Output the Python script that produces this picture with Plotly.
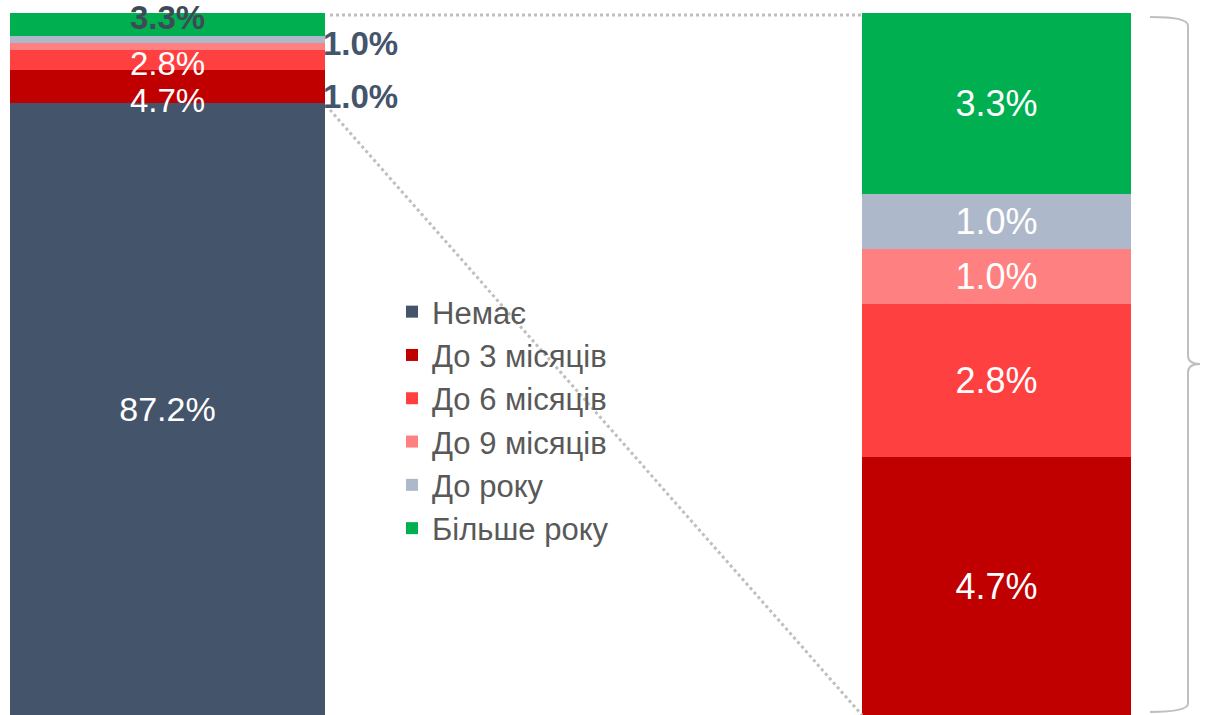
import plotly.graph_objects as go

categories = ["Немає", "До 3 місяців", "До 6 місяців", "До 9 місяців", "До року", "Більше року"]
values = [87.2, 4.7, 2.8, 1.0, 1.0, 3.3]
colors = ["#44546A", "#C00000", "#FF4040", "#FF8080", "#ADB9CA", "#00B050"]

W, H = 1229, 715
TOP = 13
FONT = "Liberation Sans, Arial, sans-serif"

left_total = sum(values)
others = values[1:]
others_total = sum(others)

def px(p):
    return p / W

def py(p):
    return (H - p) / (H - TOP)

fig = go.Figure()

# left bar
for i, (c, v, col) in enumerate(zip(categories, values, colors)):
    fig.add_trace(go.Bar(
        x=[0], y=[v], name=c, marker=dict(color=col, line=dict(width=0)),
        width=1, xaxis="x", yaxis="y",
        text=[f"{v:.1f}%"] if i == 0 else None,
        textposition="inside" if i == 0 else "none",
        insidetextanchor="middle",
        textfont=dict(color="white", size=34, family=FONT),
        constraintext="none",
        hoverinfo="skip",
    ))

# right (zoomed) bar
for c, v, col in zip(categories[1:], others, colors[1:]):
    fig.add_trace(go.Bar(
        x=[0], y=[v], name=c, marker=dict(color=col, line=dict(width=0)),
        width=1, xaxis="x2", yaxis="y2", showlegend=False,
        text=[f"{v:.1f}%"], textposition="inside", insidetextanchor="middle",
        textfont=dict(color="white", size=36, family=FONT),
        constraintext="none", hoverinfo="skip",
    ))

# labels for small left segments
cum = [sum(values[:i]) for i in range(len(values))]
label_cfg = {
    1: dict(x=0, xanchor="center", yshift=-14, color="white", bold=False),
    2: dict(x=0, xanchor="center", yshift=-3, color="white", bold=False),
    3: dict(x=0.5, xanchor="left", yshift=-50, color="#44546A", bold=True),
    4: dict(x=0.5, xanchor="left", yshift=-4, color="#44546A", bold=True),
    5: dict(x=0, xanchor="center", yshift=7, color="#3F4A57", bold=True),
}
annotations = []
for i, cfg in label_cfg.items():
    v = values[i]
    t = f"{v:.1f}%"
    if cfg["bold"]:
        t = f"<b>{t}</b>"
    annotations.append(dict(
        x=cfg["x"], y=cum[i] + v / 2, xref="x", yref="y", text=t,
        showarrow=False, xanchor=cfg["xanchor"], yanchor="middle",
        xshift=-4 if cfg["xanchor"] == "left" else 0, yshift=cfg["yshift"],
        font=dict(color=cfg["color"], size=33, family=FONT),
    ))

left_dom = [px(10), px(325)]
right_dom = [px(862), px(1131)]

shapes = [
    dict(type="line", xref="paper", yref="paper",
         x0=left_dom[1] + px(5), y0=left_total / 100 - 0.003,
         x1=right_dom[0], y1=others_total / others_total - 0.003,
         line=dict(color="#BFBFBF", width=3, dash="dot")),
    dict(type="line", xref="paper", yref="paper",
         x0=left_dom[1] + px(5), y0=values[0] / 100 - 0.01,
         x1=right_dom[0], y1=0,
         line=dict(color="#BFBFBF", width=3, dash="dot")),
]

# brace
x0b, x1b, x2b = px(1150), px(1188), px(1200)
yt, yb, ym = py(17), py(712), 0.5
d = 0.012
path = (f"M{x0b},{yt} Q{x1b},{yt} {x1b},{yt-d} L{x1b},{ym+d} "
        f"Q{x1b},{ym} {x2b},{ym} Q{x1b},{ym} {x1b},{ym-d} "
        f"L{x1b},{yb+d} Q{x1b},{yb} {x0b},{yb}")
shapes.append(dict(type="path", xref="paper", yref="paper", path=path,
                   line=dict(color="#BFBFBF", width=2)))

fig.update_layout(
    width=W, height=H, autosize=False,
    margin=dict(l=0, r=0, t=TOP, b=0),
    paper_bgcolor="white", plot_bgcolor="white",
    barmode="stack", bargap=0,
    showlegend=True,
    legend=dict(x=px(392), y=py(420), xanchor="left", yanchor="middle",
                traceorder="normal", bgcolor="rgba(0,0,0,0)",
                font=dict(color="#595959", size=31, family=FONT),
                itemclick=False, itemdoubleclick=False),
    xaxis=dict(domain=left_dom, range=[-0.5, 0.5], visible=False, fixedrange=True),
    yaxis=dict(domain=[0, 1], range=[0, left_total], visible=False, fixedrange=True),
    xaxis2=dict(domain=right_dom, range=[-0.5, 0.5], visible=False, anchor="y2", fixedrange=True),
    yaxis2=dict(domain=[0, 1], range=[0, others_total], visible=False, anchor="x2", fixedrange=True),
    annotations=annotations,
    shapes=shapes,
    uniformtext=dict(mode=False),
)

fig.write_html("out.html", config={"displayModeBar": False},
               post_script="document.body.style.margin='0';document.body.style.overflow='hidden';")
